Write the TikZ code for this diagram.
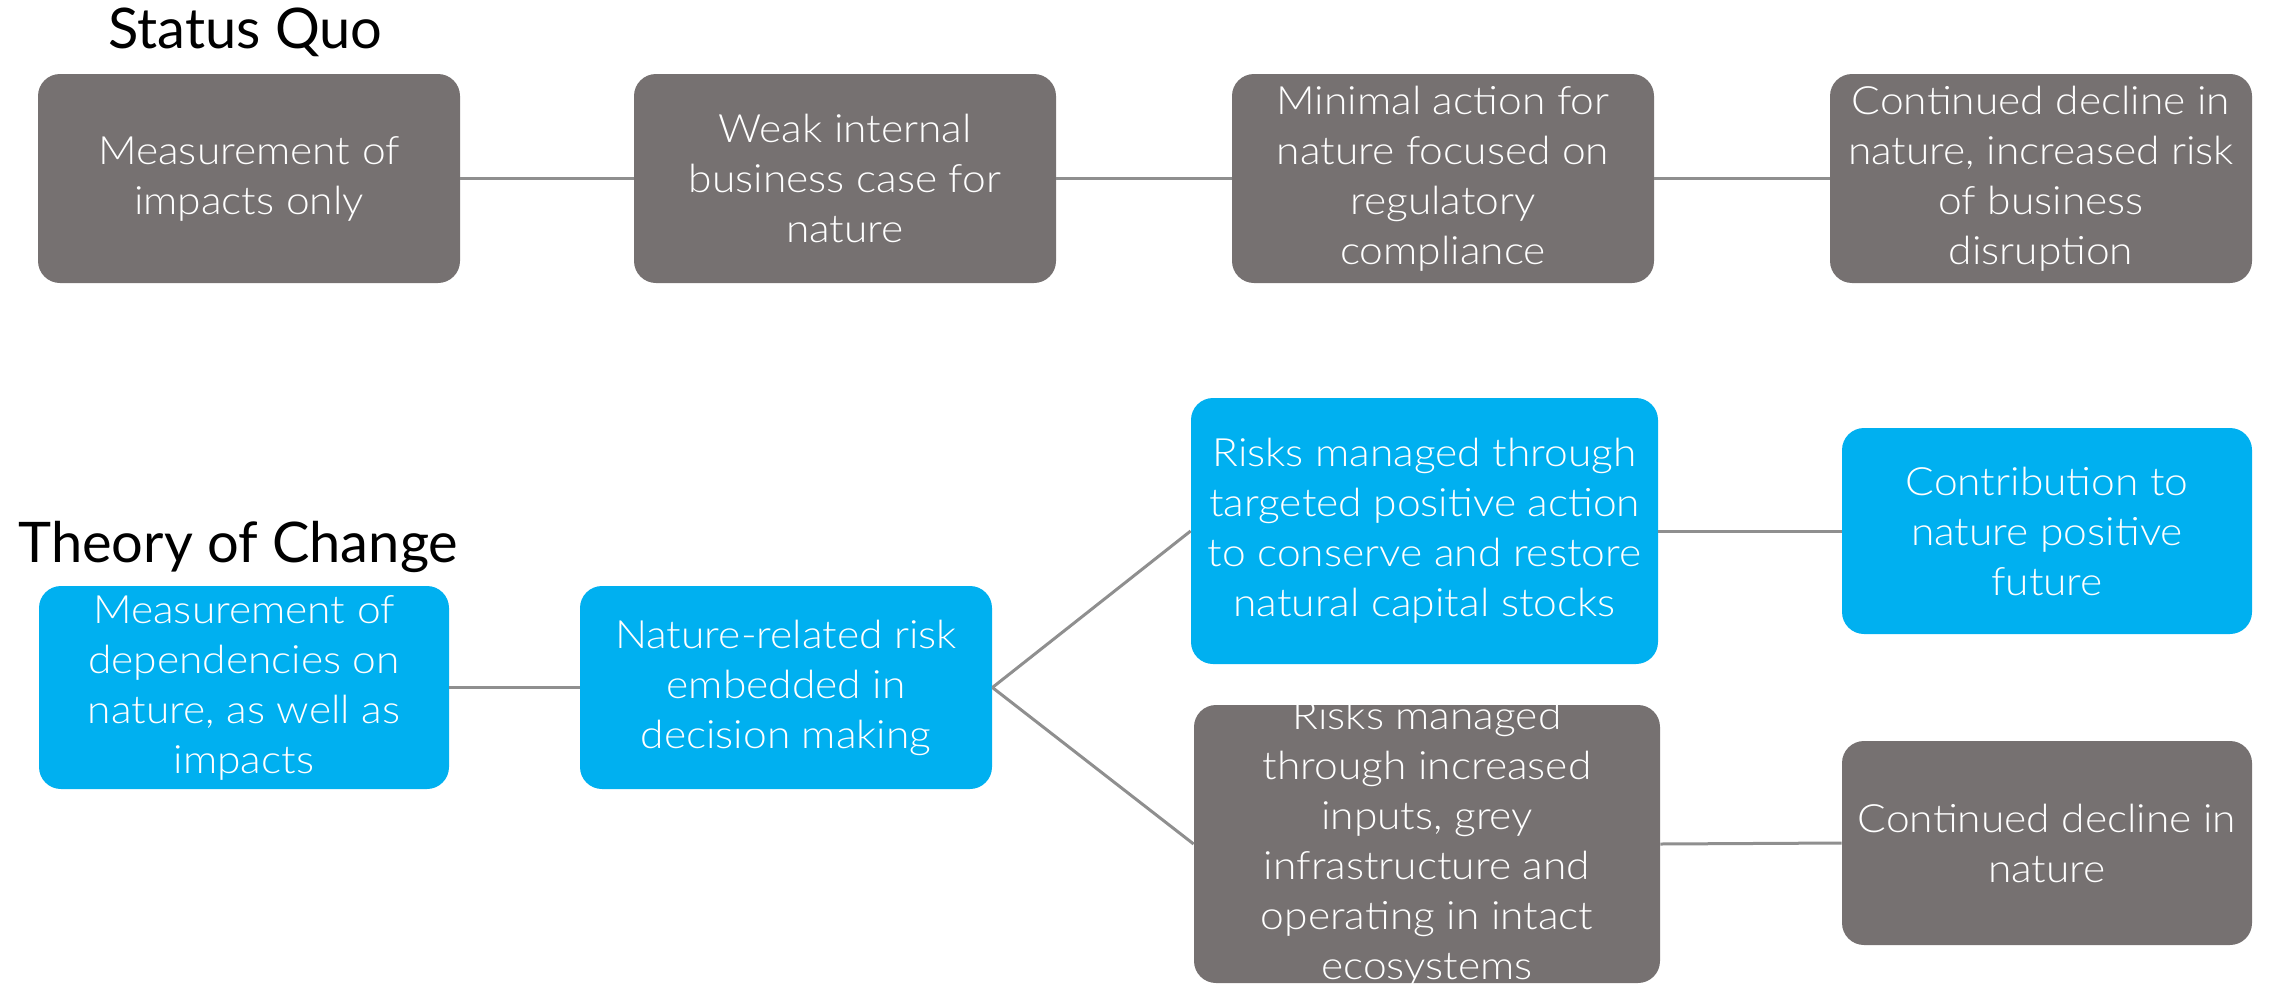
\documentclass[tikz,border=0pt]{standalone}
\usepackage{fontspec}
\setmainfont{Lato}
\newfontfamily\boxfont{Lato Light}[FakeStretch=1.09]
\definecolor{boxgrey}{HTML}{767171}
\definecolor{boxblue}{HTML}{00B0F0}
\definecolor{linegrey}{HTML}{8F8F8F}
\begin{document}
\begin{tikzpicture}[x=0.5pt,y=-0.5pt,
  box/.style={rounded corners=11pt, inner sep=0pt, align=center, text=white,
    font=\boxfont\fontsize{19.5}{25}\selectfont},
  greybox/.style={box, fill=boxgrey},
  bluebox/.style={box, fill=boxblue},
  link/.style={draw=linegrey, line width=1.5pt},
  title/.style={anchor=base west, inner sep=0pt, font=\fontsize{28}{32}\selectfont}]
\useasboundingbox (0,0) rectangle (2269,985);

% titles
\node[title] (tsq) at (108,48) {Status Quo};
\node[title] (ttoc) at (18,562) {Theory of Change};

% status quo row
\node[greybox, minimum width=211pt, minimum height=104.5pt] (s1) at (249,178.5) {Measurement of\\impacts only};
\node[greybox, minimum width=211pt, minimum height=104.5pt] (s2) at (845,178.5) {Weak internal\\business case for\\nature};
\node[greybox, minimum width=211pt, minimum height=104.5pt] (s3) at (1443,178.5) {Minimal action for\\nature focused on\\regulatory\\compliance};
\node[greybox, minimum width=211pt, minimum height=104.5pt] (s4) at (2041,178.5) {Continued decline in\\nature, increased risk\\of business\\disruption};

% theory of change
\node[bluebox, minimum width=205pt, minimum height=101.5pt] (b1) at (244,687.5) {Measurement of\\dependencies on\\nature, as well as\\impacts};
\node[bluebox, minimum width=206pt, minimum height=101.5pt] (b2) at (786,687.5) {Nature-related risk\\embedded in\\decision making};
\node[bluebox, minimum width=233.5pt, minimum height=133pt] (b3) at (1424.5,531) {Risks managed through\\targeted positive action\\to conserve and restore\\natural capital stocks};
\node[bluebox, minimum width=205pt, minimum height=103pt] (b4) at (2047,531) {Contribution to\\nature positive\\future};
\node[greybox, minimum width=233pt, minimum height=139pt] (b5) at (1427,844) {};
\node[box] (b5t) at (b5.center) {Risks managed\\through increased\\inputs, grey\\infrastructure and\\operating in intact\\ecosystems};
\node[greybox, minimum width=205pt, minimum height=102pt] (b6) at (2047,843) {Continued decline in\\nature};

% connectors
\draw[link] (s1.east) -- (s2.west);
\draw[link] (s2.east) -- (s3.west);
\draw[link] (s3.east) -- (s4.west);
\draw[link] (b1.east) -- (b2.west);
\draw[link] (b2.east) -- (b3.west);
\draw[link] (b2.east) -- (b5.west);
\draw[link] (b3.east) -- (b4.west);
\draw[link] (b5.east) -- (b6.west);
\end{tikzpicture}
\end{document}
